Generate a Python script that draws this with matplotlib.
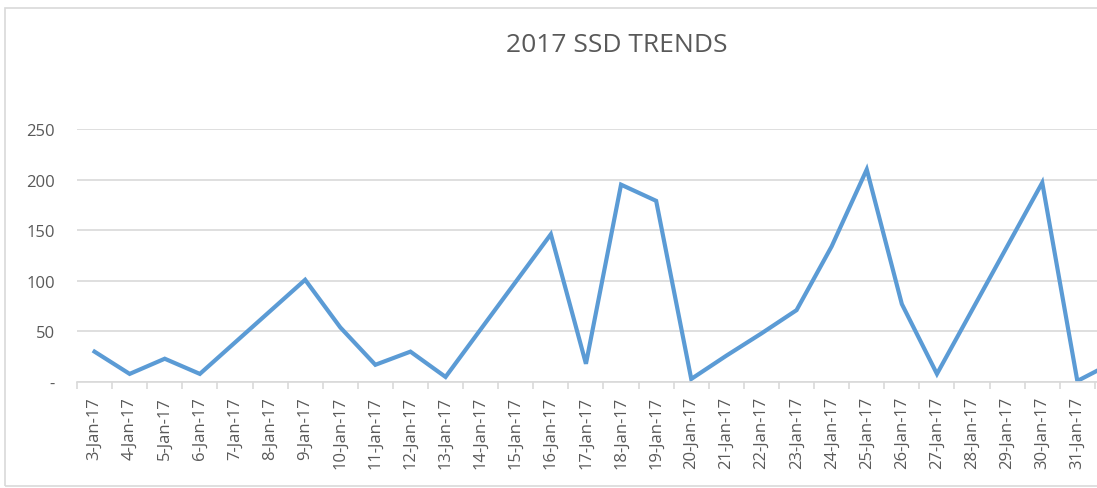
import matplotlib.pyplot as plt
import numpy as np
from matplotlib.patches import Rectangle

# データ（1-Feb-17 は右端で切れている）
dates = ["3-Jan-17", "4-Jan-17", "5-Jan-17", "6-Jan-17", "7-Jan-17", "8-Jan-17",
         "9-Jan-17", "10-Jan-17", "11-Jan-17", "12-Jan-17", "13-Jan-17", "14-Jan-17",
         "15-Jan-17", "16-Jan-17", "17-Jan-17", "18-Jan-17", "19-Jan-17", "20-Jan-17",
         "21-Jan-17", "22-Jan-17", "23-Jan-17", "24-Jan-17", "25-Jan-17", "26-Jan-17",
         "27-Jan-17", "28-Jan-17", "29-Jan-17", "30-Jan-17", "31-Jan-17", "1-Feb-17"]
ssd = [30, 8, 23, 8, 39, 70, 101, 54, 17, 30, 5, 52, 99, 146, 18, 195, 179, 3,
       26, 48, 71, 134, 210, 77, 8, 71, 134, 197, 1, 19]
y_ticks = [0, 50, 100, 150, 200, 250]
y_labels = ["-", "50", "100", "150", "200", "250"]

plt.rcParams['font.family'] = ['Open Sans', 'DejaVu Sans']
W, H = 1097, 489
fig = plt.figure(figsize=(W / 100, H / 100), dpi=100)

# 枠線
fig.patches.append(Rectangle((5 / W, 1 - 487 / H), 1.2, (487 - 9) / H,
                             transform=fig.transFigure, fill=False,
                             edgecolor='#d9d9d9', linewidth=1.2))

ax = fig.add_axes([77 / W, 1 - 383 / H, 1 - 77 / W, (383 - 130) / H])
x = np.arange(len(dates))
ax.plot(x, ssd, color='#5b9bd5', linewidth=3, solid_joinstyle='miter')

ax.set_yticks(y_ticks)
ax.set_yticklabels(y_labels)
ax.set_xticks(x)
ax.set_xticklabels(dates, rotation=90)
ax.set_xticks(np.arange(-0.5, len(dates)), minor=True)
# set_xticks が範囲を広げるので最後に指定
ax.set_xlim(-0.5, -0.5 + (W - 77) / 35.1)
ax.set_ylim(0, 250)

ax.grid(axis='y', color='#d9d9d9', linewidth=1.2)
ax.set_axisbelow(True)
for s in ['top', 'right', 'left']:
    ax.spines[s].set_visible(False)
ax.spines['bottom'].set_color('#d9d9d9')
ax.spines['bottom'].set_linewidth(1.2)

ax.tick_params(axis='y', length=0, pad=16, labelsize=12, labelcolor='#595959')
ax.tick_params(axis='x', which='major', length=0, pad=10, labelsize=12, labelcolor='#595959')
ax.tick_params(axis='x', which='minor', length=5, color='#d9d9d9', width=1.2)

fig.text(617 / W, 1 - 45 / H, "2017 SSD TRENDS", ha='center', va='center',
         fontsize=19, color='#595959')

fig.savefig("out.png", dpi=100)
